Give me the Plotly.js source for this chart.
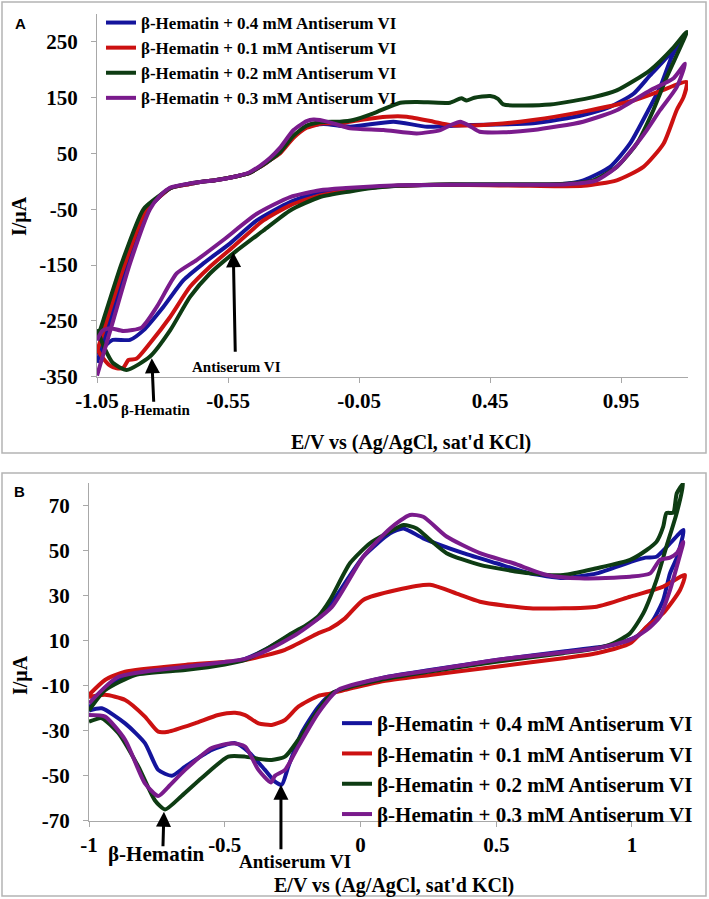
<!DOCTYPE html>
<html>
<head>
<meta charset="utf-8">
<script src="https://cdn.plot.ly/plotly-3.0.1.min.js"></script>
<style>html,body{margin:0;padding:0;background:#fff;}#chart{width:709px;height:899px;}</style>
</head>
<body>
<div id="chart"></div>
<script>
// ---------- Series names ----------
var seriesNames = ['β-Hematin + 0.4 mM Antiserum VI','β-Hematin + 0.1 mM Antiserum VI','β-Hematin + 0.2 mM Antiserum VI','β-Hematin + 0.3 mM Antiserum VI'];
var seriesColors = ['#14149c','#cc1111','#0e3c13','#7a1b8c'];

// ---------- Panel A (E in V, I in uA): forward branch then reverse branch ----------
var aX_04 = [-1.05,-1.0,-0.932,-0.855,-0.81,-0.77,-0.7,-0.657,-0.6,-0.53,-0.47,-0.428,-0.39,-0.352,-0.3,-0.25,-0.186,-0.084,0.081,0.21,0.36,0.614,0.805,0.9,0.997,1.06,1.124,1.175,
             1.14,1.099,1.054,0.984,0.908,0.806,0.717,0.5,0.3,0.1,0,-0.1,-0.199,-0.313,-0.44,-0.542,-0.644,-0.72,-0.797,-0.873,-0.924,-0.99,-1.02,-1.05];
var aY_04 = [-325,-249,-147,-50,-27,-12,-5,-1,2,8,15,26,38,52,80,98,103,98,107,98,101,104,119,132,157,190,222,253,
             220,169,128,68,26,2,-5,-6,-6,-8,-11,-15,-19,-37,-70,-111,-147,-177,-225,-267,-284,-284,-295,-310];

var aX_01 = [-1.05,-1.013,-0.943,-0.862,-0.81,-0.77,-0.7,-0.657,-0.6,-0.53,-0.47,-0.428,-0.39,-0.352,-0.3,-0.25,-0.186,-0.123,-0.046,0.056,0.132,0.234,0.297,0.425,0.614,0.805,0.997,1.1,1.2,
             1.188,1.162,1.112,1.035,0.933,0.806,0.6,0.3,0.1,0,-0.1,-0.199,-0.313,-0.415,-0.53,-0.619,-0.695,-0.771,-0.848,-0.9,-0.93,-0.95,-0.975,-1.0,-1.03,-1.05];
var aY_01 = [-305,-249,-147,-50,-27,-12,-5,-1,2,8,15,26,38,50,78,96,104,104,110,116,116,107,101,101,110,125,145,162,178,
             151,128,68,26,2,-8,-8,-6,-8,-11,-17,-25,-43,-70,-117,-153,-189,-243,-290,-318,-320,-334,-335,-330,-315,-300];

var aX_02 = [-1.05,-1.026,-0.956,-0.873,-0.81,-0.77,-0.7,-0.657,-0.6,-0.53,-0.47,-0.428,-0.39,-0.352,-0.3,-0.25,-0.2,-0.123,-0.072,0.005,0.107,0.17,0.297,0.34,0.36,0.39,0.45,0.48,0.5,0.679,0.844,0.933,1.06,1.15,1.2,
             1.124,1.073,1.01,0.933,0.844,0.742,0.5,0.3,0.1,0,-0.084,-0.199,-0.313,-0.415,-0.53,-0.619,-0.695,-0.771,-0.848,-0.937,-0.99,-1.02,-1.05];
var aY_02 = [-284,-249,-147,-50,-25,-12,-4,-1,2,8,15,26,38,52,82,100,106,107,110,122,141,142.5,141,149,145,150,153,148,138,138,151,163,199,240,268,
             187,128,68,26,2,-4,-5,-5,-8,-12,-18,-28,-52,-88,-129,-165,-207,-267,-314,-338,-325,-300,-265];

var aX_03 = [-1.05,-0.988,-0.924,-0.848,-0.81,-0.77,-0.7,-0.657,-0.6,-0.53,-0.47,-0.428,-0.39,-0.352,-0.3,-0.25,-0.224,-0.2,-0.148,-0.084,0.043,0.17,0.26,0.3,0.336,0.37,0.41,0.5,0.614,0.805,0.935,1.06,1.15,1.194,
             1.162,1.099,1.048,1.01,0.933,0.857,0.742,0.5,0.3,0.1,0,-0.1,-0.199,-0.313,-0.44,-0.568,-0.67,-0.746,-0.822,-0.88,-0.95,-1.0,-1.03,-1.05];
var aY_03 = [-348,-249,-147,-50,-26,-11,-4,-1,2,8,16,28,42,60,92,108,111,110,104,95,92,86,92,101,107,100,89,88,92,107,128,163,185,211,
             169,128,92,68,26,2,-5,-6,-6,-7,-9,-12,-16,-28,-58,-105,-141,-165,-225,-262,-268,-263,-268,-285];

// ---------- Panel B ----------
var bX_04 = [-1,-0.941,-0.83,-0.646,-0.5,-0.425,-0.352,-0.253,-0.155,-0.1,0.01,0.109,0.158,0.231,0.379,0.5,0.624,0.747,0.87,0.993,1.05,1.09,1.13,1.19,
             1.165,1.14,1.115,1.078,1.017,0.931,0.747,0.5,0.256,0.072,-0.1,-0.155,-0.217,-0.266,-0.29,-0.315,-0.352,-0.413,-0.462,-0.548,-0.646,-0.695,-0.745,-0.794,-0.867,-0.953,-1];
var bY_04 = [-20,-11,-4.5,-2,0,2,6,13,20,28,47.4,57.8,60,55.6,49,44.5,40,38,40,45,47,47.4,52,59.3,
             47,40,28.2,19.3,11.9,8.2,5.3,1.5,-3,-6.7,-13,-19.3,-31,-46,-54,-52.6,-47.4,-39.3,-35.5,-38.5,-46,-50,-47.4,-35.5,-26.7,-20,-21];

var bX_01 = [-1,-0.941,-0.867,-0.646,-0.425,-0.278,-0.155,-0.112,-0.057,0.01,0.133,0.256,0.354,0.44,0.624,0.87,0.993,1.115,1.195,
             1.177,1.115,1.054,0.993,0.87,0.747,0.5,0.256,0.072,-0.057,-0.112,-0.155,-0.229,-0.278,-0.327,-0.376,-0.425,-0.462,-0.524,-0.61,-0.708,-0.745,-0.794,-0.867,-0.941,-1];
var bY_01 = [-14,-7.4,-3.7,-0.7,1.5,6,13.4,15.5,20,28.2,32.6,34.9,31,27.4,24.5,25.2,29.6,34.1,39.3,
             32.6,22.3,16.3,8.9,4.5,2.3,-1.5,-5.2,-8.2,-11.8,-13.5,-14.5,-19.3,-25.2,-27.4,-26.7,-23,-22,-23,-26.7,-30.4,-30.4,-23.7,-16.3,-14,-15];

var bX_02 = [-1,-0.941,-0.83,-0.646,-0.5,-0.425,-0.352,-0.253,-0.2,-0.155,-0.112,-0.039,0.035,0.097,0.158,0.207,0.256,0.317,0.44,0.624,0.747,0.87,0.993,1.054,1.09,1.115,1.127,1.152,1.165,1.189,
             1.165,1.127,1.09,1.042,0.993,0.931,0.87,0.747,0.5,0.256,0.072,-0.1,-0.155,-0.229,-0.278,-0.327,-0.376,-0.425,-0.487,-0.585,-0.659,-0.72,-0.757,-0.818,-0.892,-0.953,-1];
var bY_02 = [-21,-12,-5.2,-3,-0.5,1.5,6,13.4,17,21,28.2,44.5,53.4,57.8,61.5,60,54.9,49,43.8,40,39.3,42.3,46,50.4,54,60.8,66.8,67,75.6,80,
             67,52,37,22.3,13.4,8.9,6.7,4.5,0.7,-3.7,-7.4,-13,-20.7,-34,-41.5,-43,-42.5,-41.5,-41.5,-51,-59,-65,-61,-46,-31,-24.4,-26];

var bX_03 = [-1,-0.892,-0.646,-0.425,-0.34,-0.229,-0.106,0.01,0.109,0.182,0.231,0.317,0.44,0.563,0.686,0.808,0.993,1.067,1.103,1.14,1.165,1.189,
             1.165,1.14,1.103,1.054,0.993,0.87,0.5,0.256,0.072,-0.082,-0.155,-0.229,-0.278,-0.315,-0.33,-0.376,-0.425,-0.474,-0.548,-0.646,-0.708,-0.745,-0.794,-0.867,-0.941,-1];
var bY_03 = [-17.8,-6,-1.5,2,6,13.4,25,47.4,60,66,65.2,56.4,49,44.5,39.3,37.8,38.5,40,46,47,49,54,
             43,32.6,20.8,14.8,10.4,6.7,1.5,-3.2,-6.7,-11.8,-22,-37,-47.4,-50,-53,-47.4,-37,-35.5,-37.7,-47.4,-55,-59,-53.4,-34,-23.7,-23];

// ---------- Axis ticks ----------
var aTickVals = [-1.05,-0.55,-0.05,0.45,0.95];
var aTickText = ['-1.05','-0.55','-0.05','0.45','0.95'];
var aYTickVals = [-350,-250,-150,-50,50,150,250];
var aYTickText = ['-350','-250','-150','-50','50','150','250'];
var bTickVals = [-1,-0.5,0,0.5,1];
var bTickText = ['-1','-0.5','0','0.5','1'];
var bYTickVals = [-70,-50,-30,-10,10,30,50,70];
var bYTickText = ['-70','-50','-30','-10','10','30','50','70'];

var W = 709, H = 899;
function px(v){return v/W;}
function py(v){return 1 - v/H;}

var serif = 'Liberation Serif, Times New Roman, serif';
var sans = 'Liberation Sans, Arial, sans-serif';
var xTitle = "E/V vs (Ag/AgCl, sat'd KCl)";
var yTitle = 'I/μA';
var aXs = [aX_04,aX_01,aX_02,aX_03], aYs = [aY_04,aY_01,aY_02,aY_03];
var bXs = [bX_04,bX_01,bX_02,bX_03], bYs = [bY_04,bY_01,bY_02,bY_03];
var traces = [];
for (var i=0;i<4;i++){
  traces.push({x:aXs[i], y:aYs[i], type:'scatter', mode:'lines', name:seriesNames[i],
    line:{color:seriesColors[i], width:4, shape:'spline', smoothing:0.6}, xaxis:'x', yaxis:'y', legend:'legend'});
}
for (var j=0;j<4;j++){
  traces.push({x:bXs[j], y:bYs[j], type:'scatter', mode:'lines', name:seriesNames[j],
    line:{color:seriesColors[j], width:4, shape:'spline', smoothing:0.6}, xaxis:'x2', yaxis:'y2', legend:'legend2'});
}

var axCommon = {showline:true, linecolor:'#a8a8a8', linewidth:1, ticks:'outside', ticklen:5, tickcolor:'#a8a8a8',
  showgrid:false, zeroline:false, tickmode:'array'};
var tickFont = {family:serif, size:21, weight:'bold'};
var titleFont = {family:serif, size:20, weight:'bold'};

var layout = {
  width:W, height:H, margin:{l:0,r:0,t:0,b:0}, paper_bgcolor:'#ffffff', plot_bgcolor:'#ffffff',
  font:{family:serif, color:'#000000'}, showlegend:true,
  xaxis: Object.assign({}, axCommon, {domain:[px(97),px(688)], range:[-1.05,1.205], anchor:'y',
    tickvals:aTickVals, ticktext:aTickText, tickfont:tickFont}),
  yaxis: Object.assign({}, axCommon, {domain:[py(376.7),py(14)], range:[-350,300], anchor:'x',
    tickvals:aYTickVals, ticktext:aYTickText, tickfont:tickFont, ticklabelstandoff:9}),
  xaxis2: Object.assign({}, axCommon, {domain:[px(89),px(687)], range:[-1,1.2026], anchor:'y2',
    tickvals:bTickVals, ticktext:bTickText, tickfont:tickFont}),
  yaxis2: Object.assign({}, axCommon, {domain:[py(820.7),py(483)], range:[-70,80.2], anchor:'x2',
    tickvals:bYTickVals, ticktext:bYTickText, tickfont:tickFont, ticklabelstandoff:9}),
  legend:{x:px(101), y:py(5), xanchor:'left', yanchor:'top', bgcolor:'rgba(0,0,0,0)', borderwidth:0,
    font:{family:serif,size:17,weight:'bold'}, tracegroupgap:0},
  legend2:{x:px(337), y:py(703), xanchor:'left', yanchor:'top', bgcolor:'rgba(0,0,0,0)', borderwidth:0,
    font:{family:serif,size:21,weight:'bold'}, tracegroupgap:0},
  shapes:[
    {type:'rect', xref:'paper', yref:'paper', x0:px(2), x1:px(706), y0:py(453), y1:py(2), line:{color:'#b4b4b4', width:1.5}},
    {type:'rect', xref:'paper', yref:'paper', x0:px(2), x1:px(706), y0:py(896), y1:py(473), line:{color:'#b4b4b4', width:1.5}}
  ],
  annotations:[
    {xref:'paper', yref:'paper', x:px(20), y:py(24), xanchor:'center', yanchor:'middle', text:'A', showarrow:false, font:{family:sans, size:15, weight:'bold'}},
    {xref:'paper', yref:'paper', x:px(19), y:py(491), xanchor:'center', yanchor:'middle', text:'B', showarrow:false, font:{family:sans, size:15, weight:'bold'}},
    // Axis titles
    {xref:'paper', yref:'paper', x:px(411), y:py(442), xanchor:'center', yanchor:'middle', text:xTitle, showarrow:false, font:titleFont},
    {xref:'paper', yref:'paper', x:px(19), y:py(216), xanchor:'center', yanchor:'middle', text:yTitle, textangle:-90, showarrow:false, font:titleFont},
    {xref:'paper', yref:'paper', x:px(394), y:py(885), xanchor:'center', yanchor:'middle', text:xTitle, showarrow:false, font:titleFont},
    {xref:'paper', yref:'paper', x:px(20), y:py(675), xanchor:'center', yanchor:'middle', text:yTitle, textangle:-90, showarrow:false, font:titleFont},
    // Panel A arrows and labels
    {xref:'x', yref:'y', x:-0.53, y:-127, text:'', showarrow:true, ax:2, ay:101, arrowhead:2, arrowsize:1, arrowwidth:3, arrowcolor:'#000'},
    {xref:'x', yref:'y', x:-0.841, y:-317, text:'', showarrow:true, ax:2, ay:45, arrowhead:2, arrowsize:1, arrowwidth:3, arrowcolor:'#000'},
    {xref:'x', yref:'paper', x:-0.516, y:py(367), xanchor:'center', yanchor:'middle', text:'Antiserum VI', showarrow:false, font:{family:serif,size:15,weight:'bold'}},
    {xref:'x', yref:'paper', x:-0.825, y:py(410), xanchor:'center', yanchor:'middle', text:'β-Hematin', showarrow:false, font:{family:serif,size:15,weight:'bold'}},
    // Panel B arrows and labels
    {xref:'x2', yref:'y2', x:-0.724, y:-66, text:'', showarrow:true, ax:-1, ay:36, arrowhead:2, arrowsize:1, arrowwidth:3, arrowcolor:'#000'},
    {xref:'x2', yref:'y2', x:-0.293, y:-54, text:'', showarrow:true, ax:0, ay:66, arrowhead:2, arrowsize:1, arrowwidth:3, arrowcolor:'#000'},
    {xref:'x2', yref:'paper', x:-0.751, y:py(854), xanchor:'center', yanchor:'middle', text:'β-Hematin', showarrow:false, font:{family:serif,size:21,weight:'bold'}},
    {xref:'x2', yref:'paper', x:-0.24, y:py(861), xanchor:'center', yanchor:'middle', text:'Antiserum VI', showarrow:false, font:{family:serif,size:19,weight:'bold'}}
  ]
};

Plotly.newPlot('chart', traces, layout, {staticPlot:true, displayModeBar:false});
</script>
</body>
</html>
